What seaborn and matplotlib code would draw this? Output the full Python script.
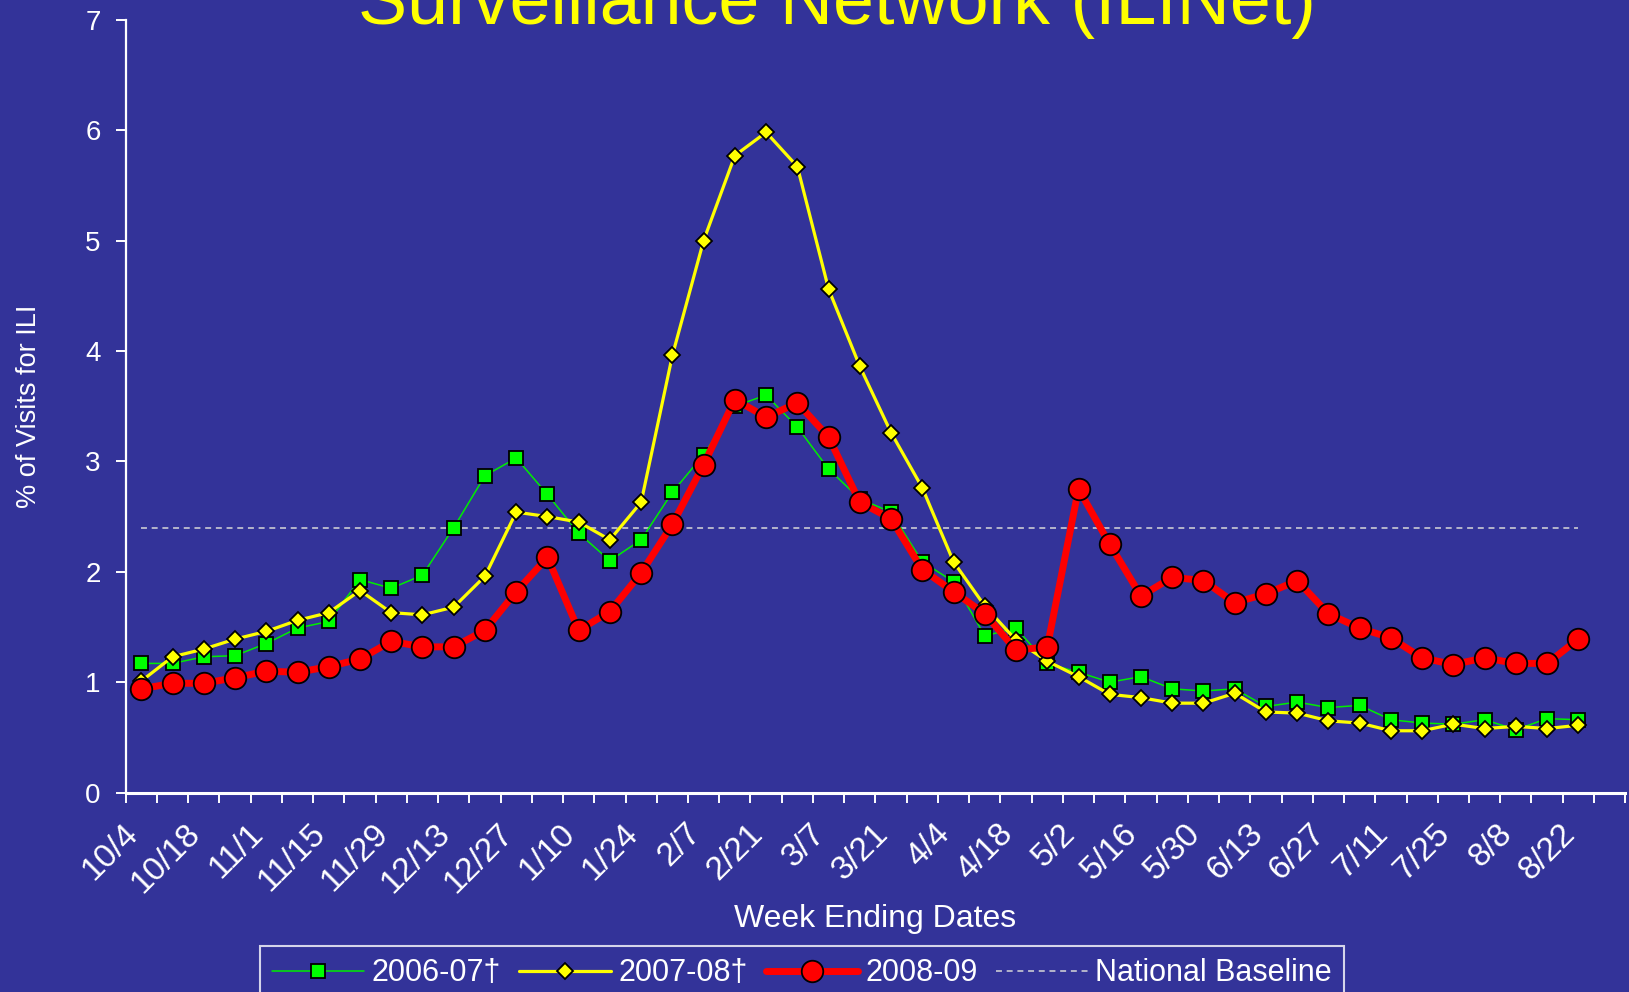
import matplotlib
matplotlib.use("Agg")
import matplotlib.pyplot as plt
import matplotlib.transforms as mtransforms
import seaborn as sns
import numpy as np
import pandas as pd

# ---------------- data ----------------
tick_labels = ["10/4", "10/18", "11/1", "11/15", "11/29", "12/13", "12/27", "1/10",
               "1/24", "2/7", "2/21", "3/7", "3/21", "4/4", "4/18", "5/2", "5/16",
               "5/30", "6/13", "6/27", "7/11", "7/25", "8/8", "8/22"]

season_2006_07 = [1.17, 1.17, 1.23, 1.24, 1.35, 1.49, 1.55, 1.93, 1.85, 1.97, 2.40, 2.87,
                  3.03, 2.70, 2.35, 2.10, 2.29, 2.72, 3.06, 3.50, 3.60, 3.31, 2.93, 2.66,
                  2.54, 2.09, 1.91, 1.42, 1.49, 1.17, 1.09, 1.00, 1.05, 0.94, 0.92, 0.94,
                  0.78, 0.82, 0.77, 0.79, 0.66, 0.63, 0.62, 0.66, 0.57, 0.67, 0.66]

season_2007_08 = [1.01, 1.23, 1.30, 1.39, 1.46, 1.56, 1.63, 1.83, 1.63, 1.61, 1.68, 1.96,
                  2.54, 2.50, 2.45, 2.29, 2.63, 3.96, 5.00, 5.77, 5.98, 5.67, 4.56, 3.86,
                  3.26, 2.76, 2.09, 1.69, 1.38, 1.19, 1.05, 0.89, 0.86, 0.81, 0.81, 0.90,
                  0.73, 0.72, 0.65, 0.63, 0.56, 0.56, 0.62, 0.58, 0.60, 0.58, 0.61]

season_2008_09 = [0.94, 0.99, 0.99, 1.04, 1.10, 1.09, 1.14, 1.21, 1.37, 1.32, 1.32, 1.47,
                  1.82, 2.13, 1.47, 1.64, 1.99, 2.43, 2.97, 3.56, 3.40, 3.53, 3.22, 2.63,
                  2.48, 2.02, 1.82, 1.62, 1.29, 1.32, 2.75, 2.25, 1.78, 1.95, 1.92, 1.72,
                  1.80, 1.92, 1.62, 1.49, 1.40, 1.22, 1.16, 1.22, 1.17, 1.17, 1.39]

national_baseline = 2.4
n_categories = 48  # week categories on the axis (last one empty)

week = np.arange(len(season_2008_09))
df = pd.DataFrame({
    "week": week,
    "s0607": season_2006_07,
    "s0708": season_2007_08,
    "s0809": season_2008_09,
    "baseline": [national_baseline] * len(week),
})

# ---------------- style ----------------
BG = "#333399"
sns.set_style("ticks")
plt.rcParams["font.family"] = ["Liberation Sans", "DejaVu Sans"]
plt.rcParams["axes.facecolor"] = BG
plt.rcParams["figure.facecolor"] = BG

fig = plt.figure(figsize=(16.29, 9.92), dpi=100)
ax = fig.add_axes([125.7 / 1629, 1 - 792.6 / 992, 1499.5 / 1629, (792.6 - 19.7) / 992])
ax.set_facecolor(BG)

sns.lineplot(data=df, x="week", y="baseline", ax=ax, color="#D8D8D8", lw=1.1,
             dashes=False, label="National Baseline", zorder=1)
ax.lines[-1].set_dashes((3.9, 3.1))

sns.lineplot(data=df, x="week", y="s0607", ax=ax, color="#00EE00", lw=1.1,
             marker="s", markersize=10.5, markerfacecolor="#00FF00",
             markeredgecolor="black", markeredgewidth=1.3, label="2006-07\u2020", zorder=2)
sns.lineplot(data=df, x="week", y="s0708", ax=ax, color="#FFFF00", lw=2.3,
             marker="D", markersize=8.2, markerfacecolor="#FFFF00",
             markeredgecolor="black", markeredgewidth=1.3, label="2007-08\u2020", zorder=3)
sns.lineplot(data=df, x="week", y="s0809", ax=ax, color="#FF0000", lw=5,
             marker="o", markersize=15.5, markerfacecolor="#FF0000",
             markeredgecolor="black", markeredgewidth=1.3, label="2008-09", zorder=4)

# ---------------- axes ----------------
ax.set_xlim(-0.5, n_categories - 0.5)
ax.set_ylim(0, 7)
ax.set_yticks(range(0, 8))
ax.set_xticks(np.arange(0, len(week), 2))
ax.set_xticklabels(tick_labels)
ax.set_xticks(np.arange(-0.5, n_categories, 1), minor=True)

for s in ["top", "right"]:
    ax.spines[s].set_visible(False)
ax.spines["left"].set_color("white")
ax.spines["left"].set_linewidth(1.6)
ax.spines["bottom"].set_color("white")
ax.spines["bottom"].set_linewidth(2.2)

ax.tick_params(axis="y", colors="white", labelsize=20, length=7, width=1.4,
               direction="out", pad=11)
ax.tick_params(axis="x", which="major", colors="white", labelsize=24, length=0, pad=26)
ax.tick_params(axis="x", which="minor", colors="white", length=7, width=1.4, direction="out")
offset = mtransforms.ScaledTranslation(-8 / 100, 0, fig.dpi_scale_trans)
for lbl in ax.get_xticklabels():
    lbl.set_rotation(45)
    lbl.set_ha("right")
    lbl.set_va("center")
    lbl.set_rotation_mode("anchor")
    lbl.set_transform(lbl.get_transform() + offset)

ax.set_ylabel("% of Visits for ILI", color="white", fontsize=19.5)
ax.yaxis.set_label_coords(-0.056, 0.5)
ax.set_xlabel("Week Ending Dates", color="white", fontsize=23, va="center")
ax.xaxis.set_label_coords(0.5, -0.164)

# legend
handles, labels = ax.get_legend_handles_labels()
order = ["2006-07\u2020", "2007-08\u2020", "2008-09", "National Baseline"]
hmap = dict(zip(labels, handles))
leg = ax.legend([hmap[k] for k in order], order, loc="upper center",
                bbox_to_anchor=(802 / 1629, 1 - 946 / 992), bbox_transform=fig.transFigure,
                ncol=4, frameon=True, fancybox=False, fontsize=22, handlelength=3.0,
                handletextpad=0.25, columnspacing=0.6, borderpad=0.4, borderaxespad=0,
                labelcolor="white")
leg.get_frame().set_facecolor(BG)
leg.get_frame().set_edgecolor("white")
leg.get_frame().set_linewidth(1.5)

# title (top part falls outside the picture, as in the reference)
fig.text(837 / 1629, 1 - 24.3 / 992, "Surveillance Network (ILINet)", color="#FFFF00",
         fontsize=53, ha="center", va="baseline")

fig.savefig("out.png", dpi=100, facecolor=BG)
